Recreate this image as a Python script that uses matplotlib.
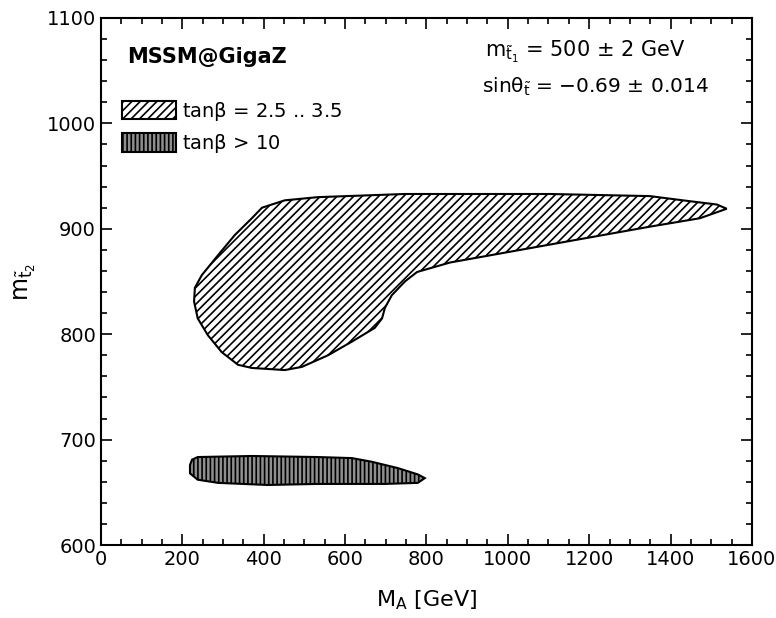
import numpy as np
import matplotlib
matplotlib.use("Agg")
import matplotlib.pyplot as plt
from matplotlib.ticker import MultipleLocator

plt.rcParams['font.family'] = ['DejaVu Sans']
plt.rcParams['mathtext.fontset'] = 'custom'
plt.rcParams['mathtext.rm'] = 'DejaVu Sans'
plt.rcParams['mathtext.it'] = 'DejaVu Sans'
plt.rcParams['hatch.linewidth'] = 1.2

# tan(beta) = 2.5 .. 3.5 allowed region (outline)
big_x = [396, 452, 533, 747, 1103, 1349, 1430, 1514, 1538, 1472, 1349, 1103,
         858, 777, 747, 715, 698, 691, 673, 617, 558, 494, 452, 371, 337, 297,
         263, 238, 229, 231, 248, 288, 329, 371]
big_y = [920, 927, 930, 933, 933, 931, 927, 923, 919, 910, 902, 885,
         868, 859, 850, 837, 825, 815, 806, 793, 780, 769, 766, 768, 771, 783,
         799, 815, 831, 844, 856, 875, 894, 910]

# tan(beta) > 10 allowed region
small_x = [219, 224, 238, 371, 533, 617, 666, 730, 779, 796, 779, 698, 533,
           410, 288, 238, 219]
small_y = [676, 681, 683.5, 684.5, 683.5, 682.5, 679, 673, 667, 663.5, 659,
           658, 658, 657, 659, 662, 668]

labels = [r"tan$\beta$ = 2.5 .. 3.5", r"tan$\beta$ > 10"]

fig = plt.figure(figsize=(7.76, 6.18), dpi=100)
ax = fig.add_axes([0.130, 0.118, 0.839, 0.853])

ax.fill(big_x, big_y, facecolor='white', edgecolor='black', lw=1.5,
        hatch='////', label=labels[0])
ax.fill(small_x, small_y, facecolor='#8f8f8f', edgecolor='black', lw=1.5,
        hatch='||||', label=labels[1])

ax.set_xlim(0, 1600)
ax.set_ylim(600, 1100)
ax.xaxis.set_major_locator(MultipleLocator(200))
ax.xaxis.set_minor_locator(MultipleLocator(50))
ax.yaxis.set_major_locator(MultipleLocator(100))
ax.yaxis.set_minor_locator(MultipleLocator(20))
ax.tick_params(which='both', direction='in', top=True, right=True,
               width=1.2, labelsize=14)
ax.tick_params(which='major', length=8)
ax.tick_params(which='minor', length=4)
for s in ax.spines.values():
    s.set_linewidth(1.5)

ax.set_xlabel(r"M$_A$ [GeV]", fontsize=16, labelpad=14)
ax.set_ylabel(r"m$_{\tilde{t}_2}$", fontsize=17, labelpad=6)

ax.text(0.04, 0.925, "MSSM@GigaZ", transform=ax.transAxes, fontsize=15,
        fontweight='bold', va='center', ha='left')
ax.text(0.59, 0.935, r"m$_{\tilde{t}_1}$ = 500 ± 2 GeV", transform=ax.transAxes,
        fontsize=15, va='center', ha='left')
ax.text(0.585, 0.87, r"sin$\theta_{\tilde{t}}$ = −0.69 ± 0.014",
        transform=ax.transAxes, fontsize=14.5, va='center', ha='left')

ax.legend(loc='upper left', bbox_to_anchor=(0.02, 0.86), frameon=False,
          fontsize=14, handlelength=2.8, handleheight=1.1, handletextpad=0.3,
          labelspacing=0.5, borderaxespad=0)

fig.savefig("out.png", dpi=100)
